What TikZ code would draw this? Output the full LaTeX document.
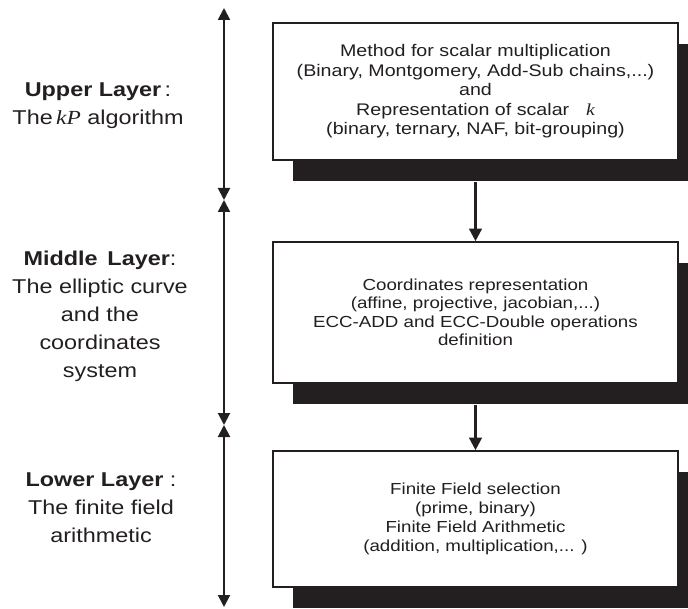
\documentclass[tikz,border=0pt]{standalone}
\usepackage{fontspec}
\setmainfont{Liberation Sans}[FakeStretch=1.17]
\newfontfamily\serifit{Liberation Serif}[FakeStretch=1.17]
\usetikzlibrary{arrows.meta,shadows}
\definecolor{ink}{HTML}{231F20}
\begin{document}
\begin{tikzpicture}[x=1pt,y=-1pt,
  box/.style={draw=ink, line width=1.6pt, fill=white, minimum width=405pt,
    align=center, text=ink, inner sep=0pt,
    drop shadow={shadow xshift=20pt, shadow yshift=-21pt, fill=ink, opacity=1, draw=none}},
  layerlabel/.style={align=center, font=\fontsize{20}{28}\selectfont, text=ink},
  layerarrow/.style={draw=ink, line width=2pt,
    {Triangle[width=12pt,length=12pt]}-{Triangle[width=12pt,length=12pt]}},
  conn/.style={draw=ink, line width=2.5pt, -{Triangle[width=12.5pt,length=12.5pt]}}]
\useasboundingbox (0,0) rectangle (688,609);
\clip (0,0) rectangle (688,609);
% boxes
\node[box, minimum height=137pt, font=\fontsize{16.8}{19.5}\selectfont] (b1) at (475.5,91.5)
  {Method for scalar multiplication\\(Binary, Montgomery, Add-Sub chains,...)\\and\\Representation of scalar\quad{\serifit\itshape k}\\(binary, ternary, NAF, bit-grouping)};
\node[box, minimum height=141pt, font=\fontsize{16}{18.5}\selectfont] (b2) at (475.5,312.5)
  {Coordinates representation\\(affine, projective, jacobian,...)\\ECC-ADD and ECC-Double operations\\definition};
\node[box, minimum height=136pt, font=\fontsize{16}{19}\selectfont] (b3) at (475.5,519)
  {Finite Field selection\\(prime, binary)\\Finite Field Arithmetic\\(addition, multiplication,... )};
% connectors
\draw[conn] ([yshift=-21pt]b1.south) -- (b2.north);
\draw[conn] ([yshift=-21pt]b2.south) -- (b3.north);
% layer axis
\coordinate (t0) at (224,8);
\coordinate (m1) at (224,200);
\coordinate (m2) at (224,425);
\coordinate (t3) at (224,607);
\draw[layerarrow] (t0) -- (m1);
\draw[layerarrow] (m1) -- (m2);
\draw[layerarrow] (m2) -- (t3);
% labels
\node[layerlabel] (l1) at (98,106) {\textbf{Upper Layer}\,:\\The\,{\serifit\itshape kP} algorithm};
\node[layerlabel] (l2) at (100,316) {\textbf{Middle\, Layer}:\\The elliptic curve\\and the\\coordinates\\system};
\node[layerlabel] (l3) at (101,508) {\textbf{Lower Layer} :\\The finite field\\arithmetic};
\end{tikzpicture}
\end{document}
